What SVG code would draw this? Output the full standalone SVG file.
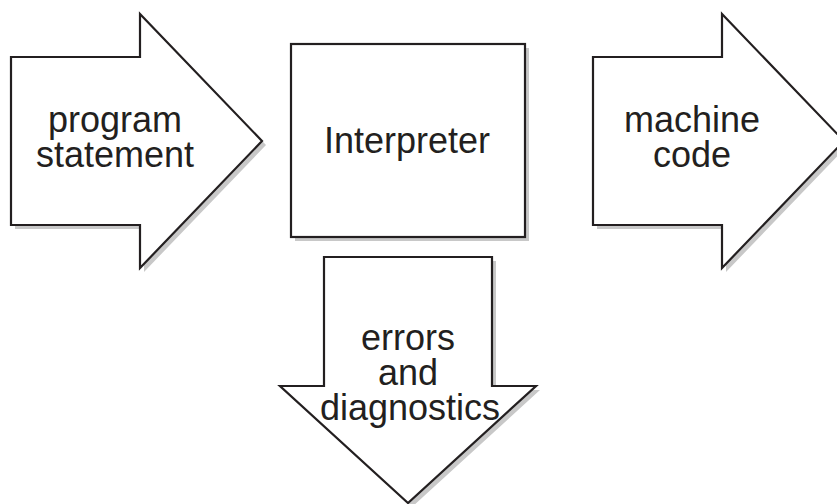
<svg xmlns="http://www.w3.org/2000/svg" xmlns:xlink="http://www.w3.org/1999/xlink" width="837" height="504" viewBox="0 0 837 504">
<style>
.shape{fill:#ffffff;stroke:#231f20;stroke-width:2.2;stroke-linejoin:miter}
.shadow{fill:#c8c8c8;stroke:none}
.lbl{font-family:"Liberation Sans",Arial,sans-serif;font-size:36px;fill:#231f20;text-anchor:middle}
</style>
<defs>
<polygon id="rarrow" points="11,57 140,57 140,14 262,141 140,268 140,225 11,225"/>
<polygon id="darrow" points="324,257 492,257 492,386 536,386 408,503 280,386 324,386"/>
</defs>
<rect width="837" height="504" fill="#ffffff"/>
<g id="program-statement">
<use xlink:href="#rarrow" class="shadow" transform="translate(4,4)"/>
<use xlink:href="#rarrow" class="shape"/>
<text class="lbl"><tspan x="115" y="132">program</tspan><tspan x="115" y="167">statement</tspan></text>
</g>
<g id="interpreter">
<rect class="shadow" x="295" y="48" width="234" height="193"/>
<rect class="shape" x="291" y="44" width="234" height="193"/>
<text class="lbl" x="407" y="153">Interpreter</text>
</g>
<g id="machine-code">
<use xlink:href="#rarrow" class="shadow" transform="translate(586,4)"/>
<use xlink:href="#rarrow" class="shape" transform="translate(582,0)"/>
<text class="lbl"><tspan x="692" y="132">machine</tspan><tspan x="692" y="167">code</tspan></text>
</g>
<g id="errors-and-diagnostics">
<use xlink:href="#darrow" class="shadow" transform="translate(4,4)"/>
<use xlink:href="#darrow" class="shape"/>
<text class="lbl"><tspan x="408" y="350">errors</tspan><tspan x="408" y="385">and</tspan><tspan x="410" y="420">diagnostics</tspan></text>
</g>
<g id="connectors"></g>
</svg>
